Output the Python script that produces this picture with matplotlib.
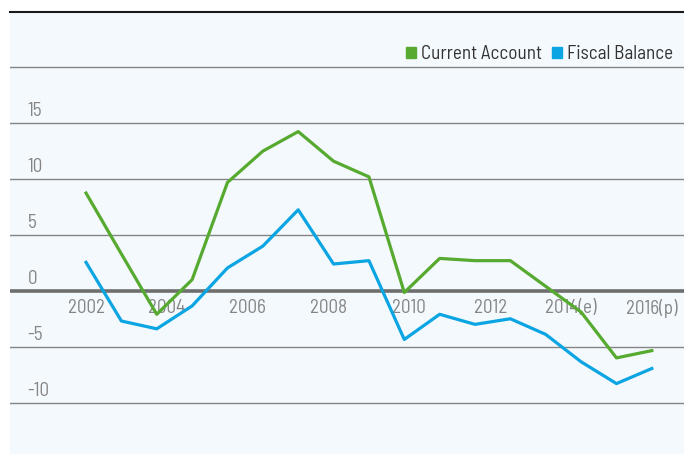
import matplotlib
matplotlib.use("Agg")
import matplotlib.pyplot as plt
from matplotlib import font_manager
from matplotlib.patches import Patch
from matplotlib.textpath import TextPath

# values, one point per step
current_account = [8.75, 3.3, -2.1, 1.0, 9.7, 12.5, 14.25, 11.6, 10.2, -0.15,
                   2.9, 2.7, 2.7, 0.4, -1.9, -6.0, -5.35]
fiscal_balance = [2.55, -2.7, -3.4, -1.35, 2.05, 4.0, 7.25, 2.4, 2.7, -4.35,
                  -2.1, -3.0, -2.5, -3.9, -6.35, -8.3, -6.95]
year_labels = ['2002', '2004', '2006', '2008', '2010', '2012', '2014(e)', '2016(p)']
y_ticks = [-10, -5, 0, 5, 10, 15, 20]
y_labels = ['-10', '-5', '0', '5', '10', '15', '']

# the original uses a condensed face; pick the installed one closest to it
# ("2002" is about 2.6 times as wide as a digit is tall there)
def shape(path_font):
    w = TextPath((0, 0), '2002', prop=path_font).get_extents().width
    h = TextPath((0, 0), '2', prop=path_font).get_extents().height
    return w, h

cands = [font_manager.FontProperties(family='DejaVu Sans', size=1)]
for f in font_manager.fontManager.ttflist:
    if f.style != 'normal' or f.weight not in (400, 'normal', 'regular'):
        continue
    if 'CJK' in f.name:
        continue
    if 'Narrow' in f.name or 'Condensed' in f.name or 'condensed' in str(f.stretch):
        cands.append(font_manager.FontProperties(fname=f.fname, size=1))

best, best_err, best_h = None, None, None
for c in cands:
    try:
        w, h = shape(c)
    except Exception:
        continue
    err = abs(w / h - 2.6)
    if best is None or err < best_err:
        best, best_err, best_h = c, err, h

font = best.copy()
# digits about 13.5 px tall at 100 dpi
fsize = 13.5 / (best_h * 100 / 72)
font.set_size(fsize)

green = '#56aa2f'
blue = '#0aa5e2'
grid_col = '#858585'
label_col = '#858585'

fig = plt.figure(figsize=(6.84, 4.54), dpi=100)
ax = fig.add_axes([10 / 684, 0, 674 / 684, 442 / 454])
ax.set_facecolor('#f4f9fd')

n = len(current_account)
xs = list(range(n))
ax.set_xlim(-2.15, 16.91)
ax.set_ylim(-14.6, 24.95)

for v in y_ticks:
    if v == 0:
        ax.axhline(v, color='#6e6e6e', lw=2.6, zorder=1)
    else:
        ax.axhline(v, color=grid_col, lw=1.0, zorder=1)

ax.plot(xs, current_account, color=green, lw=2.3, zorder=3)
ax.plot(xs, fiscal_balance, color=blue, lw=2.3, zorder=3)

# y labels sit above their gridlines at the left
for v, lab in zip(y_ticks, y_labels):
    ax.text(-1.65, v + 0.6, lab, color=label_col, fontproperties=font,
            ha='left', va='baseline', zorder=2)

# year labels sit just under the zero line
step = (n - 1) / (len(year_labels) - 1)
for k, lab in enumerate(year_labels):
    ax.text(k * step, -0.75, lab, color=label_col, fontproperties=font,
            ha='center', va='top', zorder=2)

for s in ['left', 'right', 'bottom']:
    ax.spines[s].set_visible(False)
ax.spines['top'].set_color('#1a1a1a')
ax.spines['top'].set_linewidth(1.5)
ax.set_xticks([])
ax.set_yticks([])

handles = [Patch(color=green, label='Current Account'),
           Patch(color=blue, label='Fiscal Balance')]
leg = fig.legend(handles=handles, loc='center right', ncol=2, frameon=False,
                 bbox_to_anchor=(673 / 684, 1 - 54 / 454),
                 handlelength=0.55, handleheight=0.55, handletextpad=0.25,
                 columnspacing=0.5, borderpad=0, borderaxespad=0,
                 prop=font)
for t in leg.get_texts():
    t.set_color('#333333')

fig.savefig('out.png', dpi=100)
